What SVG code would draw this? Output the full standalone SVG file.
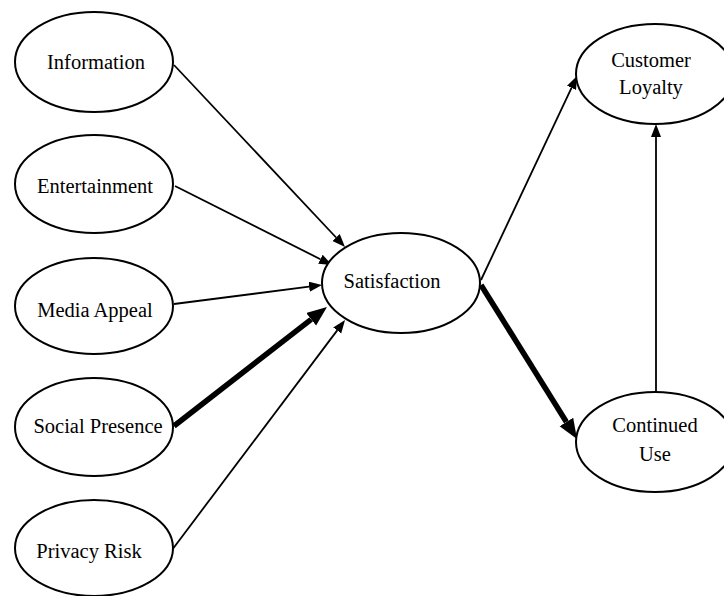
<svg xmlns="http://www.w3.org/2000/svg" width="724" height="596" viewBox="0 0 724 596">
<defs>
<style>
.node ellipse{fill:#fff;stroke:#000;stroke-width:2}
.node text{font-family:"Liberation Serif","Times New Roman",serif;font-size:20.5px;fill:#000;text-anchor:middle}
.c{stroke:#000;stroke-width:1.8;fill:none}
.c.thin{marker-end:url(#ah)}
.c.thick{stroke-width:5.5;marker-end:url(#ahb)}
</style>
<marker id="ah" markerUnits="userSpaceOnUse" markerWidth="14" markerHeight="11" refX="0" refY="5" orient="auto"><path d="M0,0 L13,5 L0,10 z" fill="#000"/></marker>
<marker id="ahb" markerUnits="userSpaceOnUse" markerWidth="21" markerHeight="17" refX="0" refY="8" orient="auto"><path d="M0,0 L20,8 L0,16 z" fill="#000"/></marker>
</defs>
<rect width="724" height="596" fill="#fff"/>
<g id="connectors">
<line class="c thin" x1="174" y1="65" x2="336.1" y2="237.5"/>
<line class="c thin" x1="175" y1="186" x2="320.4" y2="259.2"/>
<line class="c thin" x1="174" y1="304" x2="309.1" y2="286.7"/>
<line class="c thick" x1="174" y1="426" x2="311.2" y2="319.3"/>
<line class="c thin" x1="172" y1="550" x2="337.2" y2="330.4"/>
<line class="c thin" x1="481" y1="280" x2="571.5" y2="87.8"/>
<line class="c thick" x1="481" y1="285" x2="566.4" y2="422"/>
<line class="c thin" x1="656" y1="392" x2="656" y2="137"/>
</g>
<g id="information" class="node"><ellipse cx="94" cy="62" rx="79" ry="50"/><text x="96" y="69">Information</text></g>
<g id="entertainment" class="node"><ellipse cx="94" cy="184" rx="79" ry="49"/><text x="95" y="193">Entertainment</text></g>
<g id="media-appeal" class="node"><ellipse cx="94" cy="306" rx="79" ry="48"/><text x="95" y="317">Media Appeal</text></g>
<g id="social-presence" class="node"><ellipse cx="94" cy="427" rx="79" ry="49"/><text x="98" y="433">Social Presence</text></g>
<g id="privacy-risk" class="node"><ellipse cx="94" cy="548" rx="79" ry="48"/><text x="89" y="558">Privacy Risk</text></g>
<g id="satisfaction" class="node"><ellipse cx="401" cy="283" rx="79" ry="50"/><text x="392" y="288">Satisfaction</text></g>
<g id="customer-loyalty" class="node"><ellipse cx="655" cy="74" rx="79" ry="50"/><text x="651" y="67">Customer</text><text x="651" y="94">Loyalty</text></g>
<g id="continued-use" class="node"><ellipse cx="655" cy="442" rx="79" ry="50"/><text x="655" y="432">Continued</text><text x="655" y="461">Use</text></g>
</svg>
